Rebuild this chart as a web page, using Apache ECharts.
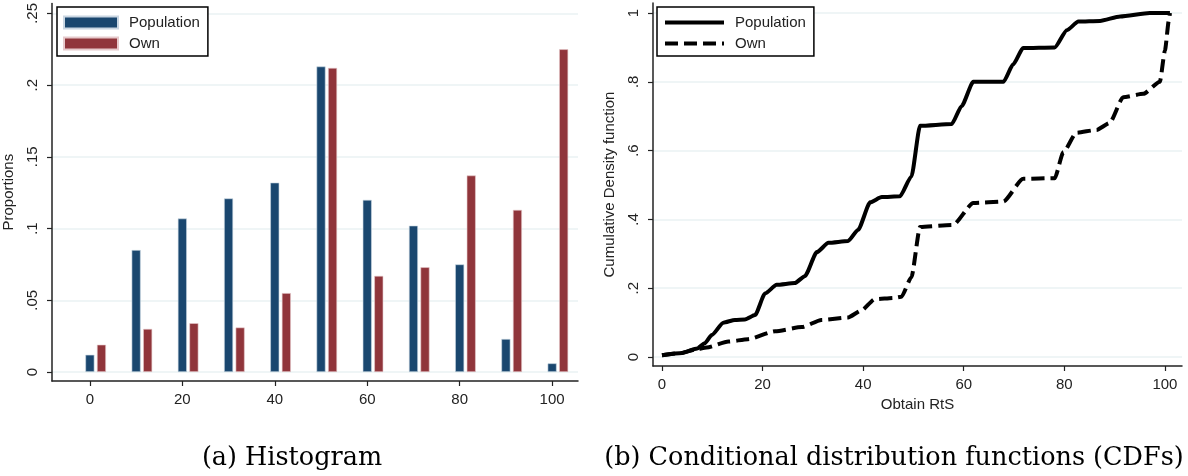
<!DOCTYPE html>
<html>
<head>
<meta charset="utf-8">
<script src="https://cdn.jsdelivr.net/npm/echarts@6/dist/echarts.min.js"></script>
<style>
  html, body { margin: 0; padding: 0; background: #fff; }
  #chart { width: 1188px; height: 476px; }
</style>
</head>
<body>
<div id="chart"></div>
<script>
// histogram data (proportions per RtS bin)
var bins = [0, 10, 20, 30, 40, 50, 60, 70, 80, 90, 100];
var popProp = [0.012, 0.085, 0.107, 0.121, 0.132, 0.213, 0.120, 0.102, 0.075, 0.023, 0.006];
var ownProp = [0.019, 0.030, 0.034, 0.031, 0.055, 0.212, 0.067, 0.073, 0.137, 0.113, 0.225];

// CDF curves, [Obtain RtS, cumulative share]
var popCdf = [[0, 0.005], [4, 0.012], [7, 0.025], [8.5, 0.04], [9.9, 0.064], [12.2, 0.100],
  [14.5, 0.108], [16.5, 0.109], [18.5, 0.122], [20.5, 0.185], [22.8, 0.210], [26.4, 0.215],
  [28.4, 0.235], [30.8, 0.305], [33.1, 0.332], [37, 0.337], [39, 0.37], [41.4, 0.45],
  [43.7, 0.465], [47.3, 0.467], [49.6, 0.525], [51.3, 0.672], [57.6, 0.677], [59.6, 0.73],
  [61.9, 0.80], [67.9, 0.80], [69.8, 0.85], [71.8, 0.898], [78.1, 0.90], [80.5, 0.95],
  [82.8, 0.975], [87.1, 0.977], [91.1, 0.99], [97, 1.0], [101, 1.0]];
var ownCdf = [[0, 0.005], [4, 0.012], [6.6, 0.022], [8.9, 0.028], [13.2, 0.045], [17.1, 0.052],
  [22.5, 0.075], [27.8, 0.087], [31.7, 0.108], [37, 0.115], [39.6, 0.135], [42.3, 0.168],
  [46.2, 0.172], [47.6, 0.175], [49.6, 0.232], [51.3, 0.378], [57.9, 0.384], [61.9, 0.448],
  [67.9, 0.452], [71.8, 0.518], [78.1, 0.52], [79.8, 0.595], [82.4, 0.652], [86.4, 0.66],
  [89, 0.68], [91.7, 0.755], [95.7, 0.765], [99, 0.80], [100, 0.89], [100.8, 0.98], [101, 1.0]];

var histTicksY = [0, 0.05, 0.1, 0.15, 0.2, 0.25];
var cdfTicksY = [0, 0.2, 0.4, 0.6, 0.8, 1];
var ticksX = [0, 20, 40, 60, 80, 100];

var NAVY = '#1a476f', MAROON = '#90353b', GRID = '#eaf2f3';
var FONT = 'Liberation Sans, Arial, sans-serif';
var CAPTION_FONT = '25.5px "DejaVu Serif", serif';
var ownShift = 2.5; // own bars drawn just right of the population bars

function stataNum(v) {
  var s = String(Math.round(v * 100) / 100);
  return s.replace(/^0\./, '.');
}

function xAxisCfg(grid, min, max, show, name) {
  return {
    type: 'value', gridIndex: grid, min: min, max: max, show: show,
    name: name || '', nameLocation: 'middle', nameGap: 26,
    nameTextStyle: { fontFamily: FONT, fontSize: 15, color: '#222' },
    axisLine: { onZero: false, lineStyle: { color: '#222', width: 1.5 } },
    axisTick: { length: 5, customValues: ticksX, lineStyle: { color: '#222', width: 1.2 } },
    axisLabel: { customValues: ticksX, margin: 11, fontFamily: FONT, fontSize: 15, color: '#222' },
    splitLine: { show: false }
  };
}

function yAxisCfg(grid, min, max, ticks, name) {
  return {
    type: 'value', gridIndex: grid, min: min, max: max,
    name: name, nameLocation: 'middle', nameGap: 36,
    nameTextStyle: { fontFamily: FONT, fontSize: 15, color: '#222' },
    axisLine: { show: true, onZero: false, lineStyle: { color: '#222', width: 1.5 } },
    axisTick: { show: true, length: 5, customValues: ticks, lineStyle: { color: '#222', width: 1.2 } },
    axisLabel: {
      customValues: ticks, rotate: 90, margin: 12, fontFamily: FONT, fontSize: 15, color: '#222',
      formatter: stataNum
    },
    splitLine: { show: true, lineStyle: { color: GRID, width: 1.5 } }
  };
}

function legendCfg(left, names, w, extra) {
  var lg = {
    orient: 'vertical', left: left, top: 7, data: names,
    itemWidth: w, itemHeight: 12, itemGap: 6,
    padding: [8, 8, 5, 6],
    borderColor: '#000', borderWidth: 1.5, backgroundColor: '#fff',
    textStyle: { fontFamily: FONT, fontSize: 15, color: '#222', padding: [0, 0, 0, 6] },
    formatter: function (n) { return n.replace(' CDF', ''); }
  };
  for (var k in extra) lg[k] = extra[k];
  return lg;
}

var myChart = echarts.init(document.getElementById('chart'));
var option = {
  backgroundColor: '#fff',
  animation: false,
  grid: [
    { left: 52, top: 3, width: 526, height: 378 },
    { left: 653, top: 3, width: 529, height: 363 }
  ],
  xAxis: [
    xAxisCfg(0, -8.2, 105.6, true),
    xAxisCfg(0, -8.2, 105.6, false),
    xAxisCfg(1, -1.79, 103.4, true, 'Obtain RtS')
  ],
  yAxis: [
    yAxisCfg(0, -0.0063, 0.257, histTicksY, 'Proportions'),
    yAxisCfg(1, -0.026, 1.029, cdfTicksY, 'Cumulative Density function')
  ],
  legend: [
    legendCfg(57, ['Population', 'Own'], 54, { icon: 'rect' }),
    legendCfg(657, ['Population CDF', 'Own CDF'], 59, {
      itemStyle: { color: 'rgba(0,0,0,0)', borderColor: 'rgba(0,0,0,0)', borderWidth: 0 },
      lineStyle: { width: 4 }
    })
  ],
  series: [
    {
      name: 'Population', type: 'bar', xAxisIndex: 0, yAxisIndex: 0, barWidth: 9,
      itemStyle: { color: NAVY, borderColor: '#c9d6e2', borderWidth: 0.6 },
      data: bins.map(function (b, i) { return [b, popProp[i]]; })
    },
    {
      name: 'Own', type: 'bar', xAxisIndex: 1, yAxisIndex: 0, barWidth: 9,
      itemStyle: { color: MAROON, borderColor: '#e6c9cb', borderWidth: 0.6 },
      data: bins.map(function (b, i) { return [b + ownShift, ownProp[i]]; })
    },
    {
      name: 'Population CDF', type: 'line', xAxisIndex: 2, yAxisIndex: 1,
      symbol: 'none', smooth: 0.2, smoothMonotone: 'x',
      lineStyle: { color: '#000', width: 4 }, itemStyle: { color: '#000' },
      data: popCdf
    },
    {
      name: 'Own CDF', type: 'line', xAxisIndex: 2, yAxisIndex: 1,
      symbol: 'none', smooth: 0.2, smoothMonotone: 'x',
      lineStyle: { color: '#000', width: 4, type: [13, 6] }, itemStyle: { color: '#000' },
      data: ownCdf
    }
  ],
  graphic: [
    { type: 'text', x: 292, y: 458, style: { text: '(a) Histogram', textAlign: 'center', textVerticalAlign: 'middle', font: CAPTION_FONT, fill: '#000' } },
    { type: 'text', x: 894, y: 458, style: { text: '(b) Conditional distribution functions (CDFs)', textAlign: 'center', textVerticalAlign: 'middle', font: CAPTION_FONT, fill: '#000' } }
  ]
};
myChart.setOption(option, true);
</script>
</body>
</html>
